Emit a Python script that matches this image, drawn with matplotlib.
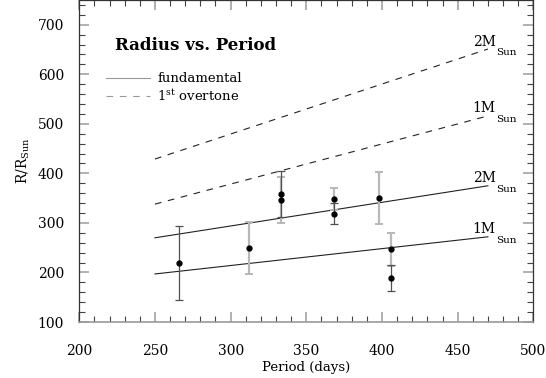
import matplotlib
matplotlib.use('Agg')
import matplotlib.pyplot as plt
from matplotlib.lines import Line2D
from matplotlib.ticker import MultipleLocator

plt.rcParams['font.family'] = ['DejaVu Serif']
plt.rcParams['mathtext.fontset'] = 'dejavuserif'
plt.rcParams['mathtext.default'] = 'regular'

# model lines (end points)
line_period = [250, 470]
fund_1m = [197, 272]
fund_2m = [270, 375]
over_1m = [338, 516]
over_2m = [429, 651]

# stars, gray group and dark group
gray_period = [312, 333, 368, 398, 406]
gray_radius = [249.5, 346.5, 349, 350, 247]
gray_err = [52, 46, 22, 52.5, 33.5]

dark_period = [266, 333, 368, 406]
dark_radius = [218.6, 358.6, 318.5, 188.3]
dark_err = [75, 47, 21, 26]

fig = plt.figure(figsize=(5.46, 3.78), dpi=100)
ax = fig.add_axes([0.1452, 0.1481, 0.8316, 0.8519])

lc = '#222222'
ax.plot(line_period, fund_1m, color=lc, lw=0.8)
ax.plot(line_period, fund_2m, color=lc, lw=0.8)
ax.plot(line_period, over_1m, color=lc, lw=0.8, dashes=(6, 6))
ax.plot(line_period, over_2m, color=lc, lw=0.8, dashes=(6, 6))

ax.errorbar(gray_period, gray_radius, yerr=gray_err, fmt='o', color='black', ms=3.5,
            ecolor='#b8b8b8', elinewidth=1.6, capsize=3, capthick=1.4)
ax.errorbar(dark_period, dark_radius, yerr=dark_err, fmt='o', color='black', ms=3.5,
            ecolor='#505050', elinewidth=0.9, capsize=3, capthick=0.9)

# mass labels at the line ends, subscript dropped low like the original
for yv, lab in [(fund_1m[1], '1M'), (fund_2m[1], '2M'), (over_1m[1], '1M'), (over_2m[1], '2M')]:
    t = ax.text(460, yv + 7, lab, fontsize=10, ha='left', va='baseline')
    ax.annotate('Sun', xy=(1, 0), xycoords=t, xytext=(0.3, -4.5), textcoords='offset points',
                fontsize=7.5, ha='left', va='baseline')

ax.text(0.079, 0.845, 'Radius vs. Period', transform=ax.transAxes, fontsize=12,
        fontweight='bold', ha='left', va='baseline')

handles = [Line2D([], [], color='#999999', lw=0.8),
           Line2D([], [], color='#999999', lw=0.8, dashes=(6, 6))]
ax.legend(handles, ['fundamental', r'1$^{st}$ overtone'], loc='upper left',
          bbox_to_anchor=(0.058, 0.775), frameon=False, fontsize=9.5, handlelength=3.4,
          handletextpad=0.5, labelspacing=0.2, borderpad=0, borderaxespad=0)

ax.set_xlim(200, 500)
ax.set_ylim(100, 750)
ax.xaxis.set_major_locator(MultipleLocator(50))
ax.xaxis.set_minor_locator(MultipleLocator(10))
ax.yaxis.set_major_locator(MultipleLocator(100))
ax.yaxis.set_minor_locator(MultipleLocator(20))
ax.tick_params(which='both', direction='in', top=True, right=True)
ax.tick_params(which='major', length=7, width=1.3, color='#aaaaaa', labelsize=10)
ax.tick_params(which='minor', length=4.3, width=0.8, color='#444444')
ax.tick_params(axis='x', which='major', pad=16)
ax.tick_params(axis='y', which='major', pad=11)
for s in ['left', 'right', 'top']:
    ax.spines[s].set_color('#333333')
    ax.spines[s].set_linewidth(0.9)
ax.spines['bottom'].set_color('#999999')
ax.spines['bottom'].set_linewidth(1.2)

ax.set_xlabel('Period (days)', fontsize=9.5, labelpad=2)
ax.set_ylabel(r'R/R$_{Sun}$', fontsize=10, labelpad=4)

fig.savefig('out.png', dpi=100)
